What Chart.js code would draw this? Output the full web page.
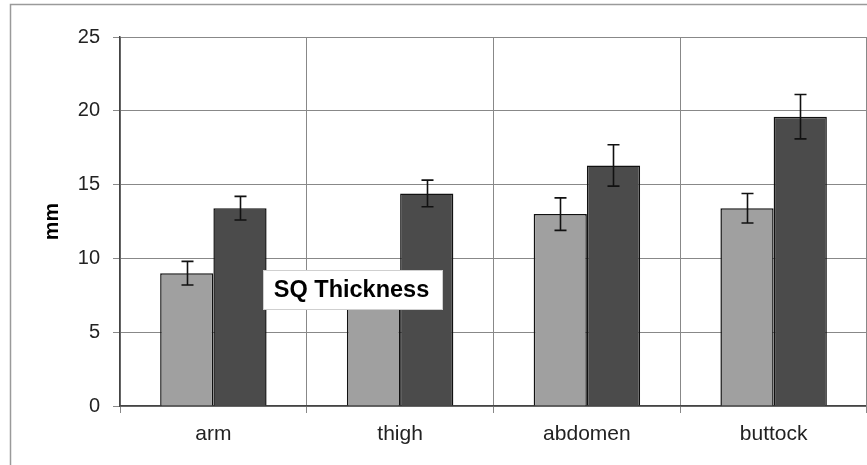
<!DOCTYPE html>
<html>
<head>
<meta charset="utf-8">
<script src="https://cdn.jsdelivr.net/npm/chart.js@4/dist/chart.umd.min.js"></script>
<style>
  html, body { margin: 0; padding: 0; background: #fff; }
  #wrap { width: 867px; height: 465px; position: relative; }
</style>
</head>
<body>
<div id="wrap"><canvas id="c"></canvas></div>
<script>
// data
const sites = ["arm", "thigh", "abdomen", "buttock"];
const lightVals = [9.0, 8.0, 13.0, 13.4];   // thigh value hidden behind the label, guessed
const lightErr  = [0.8, 0.8, 1.1, 1.0];
const darkVals  = [13.4, 14.4, 16.3, 19.6];
const darkErr   = [0.8, 0.9, 1.4, 1.5];
const yTicks = [0, 5, 10, 15, 20, 25];

const errs = [lightErr, darkErr];

// frame round the whole thing
const framePlugin = {
  id: "frame",
  beforeDraw(chart) {
    const c = chart.ctx;
    c.save();
    c.fillStyle = "#fff";
    c.fillRect(0, 0, chart.width, chart.height);
    c.strokeStyle = "#9a9a9a";
    c.lineWidth = 1.5;
    c.strokeRect(10.5, 4.5, chart.width + 20, chart.height + 20);
    c.restore();
  },
  // right edge of the plot box
  afterDraw(chart) {
    const a = chart.chartArea, c = chart.ctx;
    c.save();
    c.strokeStyle = "#888";
    c.lineWidth = 1;
    c.beginPath();
    c.moveTo(a.right - 0.5, a.top);
    c.lineTo(a.right - 0.5, a.bottom + 7);
    c.stroke();
    c.restore();
  }
};

// error bars, then the text box on top
const errorBars = {
  id: "errorBars",
  afterDatasetsDraw(chart) {
    const c = chart.ctx;
    const y = chart.scales.y;
    c.save();
    c.strokeStyle = "#111";
    c.lineWidth = 1.6;
    chart.data.datasets.forEach((ds, di) => {
      const meta = chart.getDatasetMeta(di);
      meta.data.forEach((bar, i) => {
        const v = ds.data[i], e = errs[di][i];
        const top = y.getPixelForValue(v + e);
        const bot = y.getPixelForValue(v - e);
        const x = Math.round(bar.x) + 0.5;
        c.beginPath();
        c.moveTo(x, top); c.lineTo(x, bot);
        c.moveTo(x - 6, top); c.lineTo(x + 6, top);
        c.moveTo(x - 6, bot); c.lineTo(x + 6, bot);
        c.stroke();
      });
    });

    // "SQ Thickness" label
    const a = chart.chartArea;
    const bx = a.left + 143, by = 270, bw = 179, bh = 39;
    c.fillStyle = "#fff";
    c.fillRect(bx, by, bw, bh);
    c.strokeStyle = "#cfcfcf";
    c.lineWidth = 1;
    c.strokeRect(bx + 0.5, by + 0.5, bw, bh);
    c.fillStyle = "#000";
    c.font = "bold 23.5px 'Liberation Sans', Arial, sans-serif";
    c.textBaseline = "middle";
    c.textAlign = "center";
    c.fillText("SQ Thickness", bx + bw / 2 - 1, by + bh / 2 + 1);
    c.restore();
  }
};

new Chart(document.getElementById("c"), {
  type: "bar",
  data: {
    labels: sites,
    datasets: [
      {
        data: lightVals,
        backgroundColor: "#a0a0a0",
        borderColor: "#111",
        borderWidth: 1.5
      },
      {
        data: darkVals,
        backgroundColor: "#4b4b4b",
        borderColor: "#111",
        borderWidth: 1.5
      }
    ]
  },
  options: {
    responsive: true,
    maintainAspectRatio: false,
    animation: false,
    layout: { padding: { top: 37, right: 0, left: 0, bottom: 0 } },
    datasets: {
      bar: { categoryPercentage: 0.57, barPercentage: 1.0 }
    },
    plugins: {
      legend: { display: false },
      tooltip: { enabled: false }
    },
    scales: {
      x: {
        grid: { color: "#888", lineWidth: 1, tickLength: 7, offset: true },
        border: { color: "#444", width: 1.5 },
        ticks: {
          color: "#222",
          padding: 9,
          font: { family: "'Liberation Sans', Arial, sans-serif", size: 21 }
        },
        afterFit(s) { s.height = 59; }
      },
      y: {
        min: 0,
        max: 25,
        afterBuildTicks(s) { s.ticks = yTicks.map(v => ({ value: v })); },
        grid: { color: "#888", lineWidth: 1, tickLength: 7 },
        border: { color: "#444", width: 1.5 },
        ticks: {
          color: "#222",
          padding: 13,
          font: { family: "'Liberation Sans', Arial, sans-serif", size: 20 }
        },
        title: {
          display: true,
          text: "mm",
          color: "#000",
          padding: { top: 40, bottom: 0 },
          font: { family: "'Liberation Sans', Arial, sans-serif", size: 21, weight: "bold" }
        },
        afterFit(s) { s.width = 120; }
      }
    }
  },
  plugins: [framePlugin, errorBars]
});
</script>
</body>
</html>
